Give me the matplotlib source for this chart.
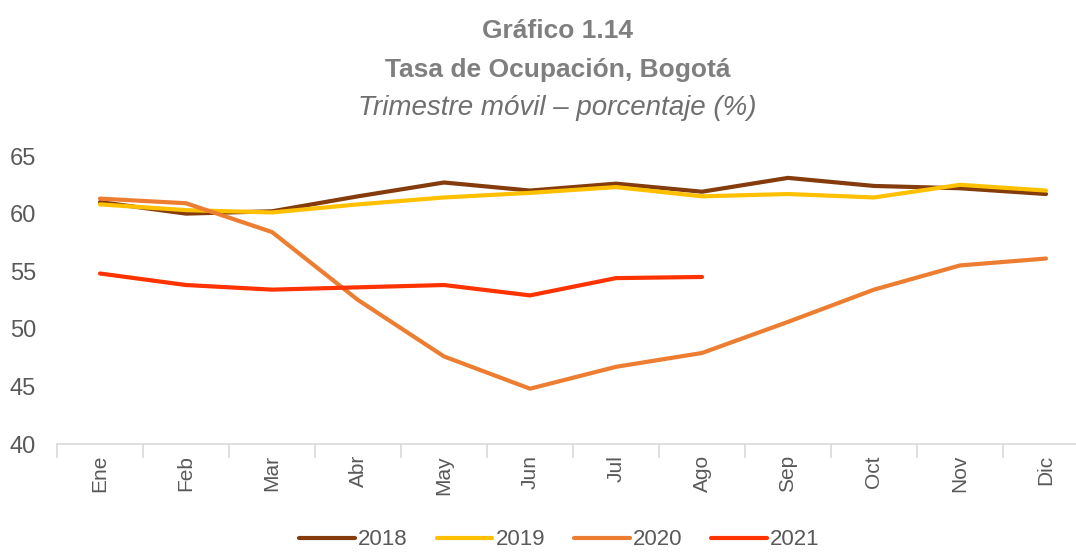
import matplotlib
matplotlib.use("Agg")
import matplotlib.pyplot as plt

months = ["Ene", "Feb", "Mar", "Abr", "May", "Jun", "Jul", "Ago", "Sep", "Oct", "Nov", "Dic"]
s2018 = [61.0, 60.0, 60.2, 61.5, 62.7, 62.0, 62.6, 61.9, 63.1, 62.4, 62.2, 61.7]
s2019 = [60.8, 60.3, 60.1, 60.8, 61.4, 61.8, 62.3, 61.5, 61.7, 61.4, 62.5, 62.0]
s2020 = [61.3, 60.9, 58.4, 52.5, 47.6, 44.8, 46.7, 47.9, 50.6, 53.4, 55.5, 56.1]
s2021 = [54.8, 53.8, 53.4, 53.6, 53.8, 52.9, 54.4, 54.5]
series = [("2018", s2018, "#843C0C"), ("2019", s2019, "#FFC000"),
          ("2020", s2020, "#ED7D31"), ("2021", s2021, "#FF3300")]
yticks = [40, 45, 50, 55, 60, 65]

plt.rcParams['font.family'] = ['Liberation Sans', 'DejaVu Sans']

fig = plt.figure(figsize=(10.76, 5.52), dpi=100)
ax = fig.add_axes([57/1076, 1-444/552, (1089-57)/1076, (444-156)/552])

for name, vals, col in series:
    ax.plot(range(len(vals)), vals, color=col, lw=3.0, label=name, solid_capstyle='round')

ax.set_xlim(-0.5, 11.5)
ax.set_ylim(40, 65)
ax.set_yticks(yticks)
ax.set_xticks(range(12))
ax.set_xticklabels(months, rotation=90, fontsize=15, color="#595959")
ax.set_xticks([i - 0.5 for i in range(13)], minor=True)
ax.tick_params(axis='x', which='major', length=0, pad=8)
ax.tick_params(axis='x', which='minor', length=10, color="#D9D9D9", width=1.2)
ax.tick_params(axis='y', length=0, labelsize=17, labelcolor="#595959", pad=15)
for s in ['top', 'right', 'left']:
    ax.spines[s].set_visible(False)
ax.spines['bottom'].set_color("#D9D9D9")
ax.spines['bottom'].set_linewidth(1.2)

fig.text(0.518, 0.943, "Gráfico 1.14", ha='center', va='center', fontsize=19,
         fontweight='bold', color="#7F7F7F")
fig.text(0.518, 0.874, "Tasa de Ocupación, Bogotá", ha='center', va='center', fontsize=19,
         fontweight='bold', color="#7F7F7F")
fig.text(0.518, 0.804, "Trimestre móvil – porcentaje (%)", ha='center', va='center', fontsize=20,
         fontstyle='italic', color="#6F6F6F")

leg = fig.legend(loc='center', bbox_to_anchor=(0.52, 0.022), ncol=4, frameon=False,
                 fontsize=16, handlelength=2.5, handletextpad=0.15,
                 columnspacing=1.3, borderpad=0.0)
for t in leg.get_texts():
    t.set_color("#595959")

fig.savefig("out.png", dpi=100)
